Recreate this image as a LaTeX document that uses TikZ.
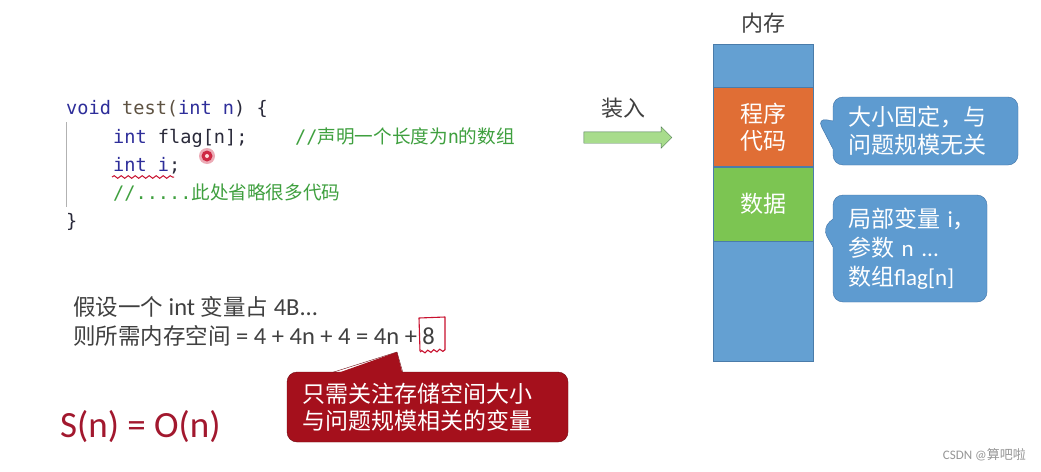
\documentclass[tikz,border=0pt]{standalone}
\usepackage{fontspec}
\setmainfont{Carlito}
\setmonofont{DejaVu Sans Mono}
\newfontfamily\cjk{Noto Sans CJK SC}
\usetikzlibrary{shapes.callouts, shapes.arrows, decorations.pathmorphing, calc}

\definecolor{kw}{HTML}{2E2E9A}
\definecolor{fn}{HTML}{5E5242}
\definecolor{txt}{HTML}{2A2A3A}
\definecolor{cm}{HTML}{3FA03F}
\definecolor{gray}{HTML}{404040}
\definecolor{memblue}{HTML}{64A0D2}
\definecolor{memorange}{HTML}{E06E35}
\definecolor{memgreen}{HTML}{7CC552}
\definecolor{memline}{HTML}{4A7CAA}
\definecolor{callblue}{HTML}{5E9BD0}
\definecolor{callline}{HTML}{3F72A6}
\definecolor{arrowfill}{HTML}{A8DC8C}
\definecolor{arrowline}{HTML}{4F7A55}
\definecolor{redfill}{HTML}{A5101C}
\definecolor{redline}{HTML}{6E0A12}
\definecolor{penred}{HTML}{C8102E}
\definecolor{sred}{HTML}{A2182E}

\newcommand{\zh}[1]{{\cjk\fontsize{22.5}{27}\selectfont #1}}

\begin{document}
\begin{tikzpicture}[
  x=1pt, y=-1pt,
  code/.style={anchor=base west, inner sep=0pt, text=txt,
               font=\ttfamily\fontsize{18.6}{22}\selectfont},
  plain/.style={anchor=west, inner sep=0pt, text=gray,
                font=\fontsize{24.5}{27}\selectfont},
  seg/.style={draw=memline, minimum width=100pt, inner sep=0pt, anchor=north,
              text=white, align=center, font=\cjk\fontsize{23}{27}\selectfont},
  bubble/.style={rectangle callout, rounded corners=10pt, fill=callblue,
                 draw=callline, text=white, align=left, inner xsep=15pt,
                 callout pointer width=28pt,
                 font=\fontsize{23}{28}\selectfont},
  note/.style={rectangle, rounded corners=10pt, fill=redfill, draw=redline,
               text=white, align=left, inner xsep=15pt, minimum height=70pt,
               text width=251pt, font=\cjk\fontsize{23}{27}\selectfont}
]
\useasboundingbox[fill=white] (0,0) rectangle (1041,471);

% code on the left
\draw[gray!40, line width=1pt] (66,122) -- (66,207);
\node[code] (l1) at (66,114) {\color{kw}void \color{fn}test(\color{kw}int n\color{txt}) \{};
\node[code] (l2) at (113,143) {\color{kw}int \color{txt}flag[n];};
\node[code, text=cm] (c2) at (295,143) {//{\cjk 声明一个长度为}n{\cjk 的数组}};
\node[code] (l3) at (113,171) {\color{kw}int i\color{txt};};
\node[code, text=cm] (l4) at (113,199) {//.....{\cjk 此处省略很多代码}};
\node[code] (l5) at (66,227) {\}};
\draw[penred, line width=1pt, decorate,
      decoration={snake, amplitude=1.3pt, segment length=7pt}] (112,177) -- (174,177);
\fill[penred!35] (207,156) circle (8);
\fill[penred!90] (207,156) circle (5.5);
\fill[pink!60] (207,156) circle (2);

% loading arrow
\node[font=\cjk\fontsize{22}{26}\selectfont, text=gray] (load) at (623,108) {装入};
\node[single arrow, draw=arrowline, fill=arrowfill, inner xsep=0pt, inner ysep=5.5pt,
      minimum height=88pt, single arrow head extend=5pt,
      single arrow head indent=0pt] (arr) at (625,137.5) {};

% memory column
\node[font=\cjk\fontsize{22}{26}\selectfont, text=gray] (memtitle) at (763,23) {内存};
\node[seg, fill=memblue, minimum height=43pt] (m1) at (763,44) {};
\node[seg, fill=memorange, minimum height=79pt] (m2) at (m1.south) {程序\\代码};
\node[seg, fill=memgreen, minimum height=74pt] (m3) at (m2.south) {数据};
\node[seg, fill=memblue, minimum height=120pt] (m4) at (m3.south) {};

% remarks
\coordinate (tipA) at (817,118);
\coordinate (tipB) at (822,228);
\node[bubble, text width=155pt, minimum height=68pt,
      callout absolute pointer={(tipA)}] (fixed) at (925.5,131)
  {{\cjk 大小固定，与}\\{\cjk 问题规模无关}};
\node[bubble, text width=124pt, minimum height=107pt,
      font=\fontsize{23}{29}\selectfont,
      callout absolute pointer={(tipB)}] (vars) at (910,248.5)
  {\mbox{{\cjk 局部变量} i{\cjk ，}}\\\mbox{{\cjk 参数} n ...}\\\mbox{{\cjk 数组}flag[n]}};

% space estimate
\node[plain] (e1) at (73,307) {\zh{假设一个} int \zh{变量占} 4B...};
\node[plain] (e2) at (73,336) {\zh{则所需内存空间} = 4 + 4n + 4 = 4n + 8};
\draw[penred, line width=1.1pt, line join=round] (420,351) -- (419,318) -- (445,317) -- (445,350);
\draw[penred, line width=1.1pt, decorate,
      decoration={snake, amplitude=1.2pt, segment length=6pt}] (420,352) -- (445,350);

\coordinate (tipC) at (397,352);
\node[note] (warn) at (427.5,407) {只需关注存储空间大小\\与问题规模相关的变量};
\fill[redfill] ($(warn.north west)+(46,3)$) -- (tipC) -- ($(warn.north west)+(116,3)$) -- cycle;
\draw[redline] ($(warn.north west)+(46,0.5)$) -- (tipC) -- ($(warn.north west)+(116,0.5)$);

\node[anchor=west, inner sep=0pt, text=sred, font=\fontsize{37}{40}\selectfont] (sn) at (60,427) {S(n) = O(n)};

\node[anchor=east, inner sep=0pt, text=gray!55, font=\fontsize{13}{15}\selectfont] (mark) at (1026,455) {CSDN @{\cjk 算吧啦}};
\end{tikzpicture}
\end{document}
